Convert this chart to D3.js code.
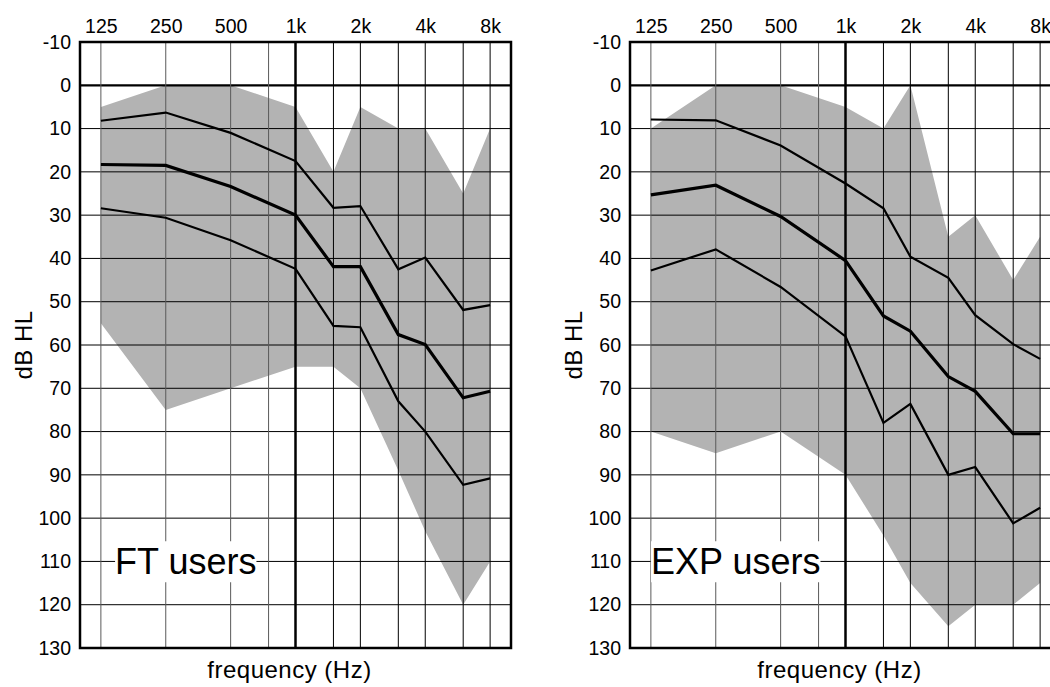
<!DOCTYPE html>
<html>
<head>
<meta charset="utf-8">
<script src="https://cdn.jsdelivr.net/npm/d3@7"></script>
<style>
  html, body { margin: 0; padding: 0; background: #fff; }
  svg { display: block; }
</style>
</head>
<body>
<div id="chart"></div>
<script>
// audiogram data (dB HL)
const freqs = [125, 250, 500, 1000, 1500, 2000, 3000, 4000, 6000, 8000];
const gridFreqs = [125, 250, 500, 750, 1000, 1500, 2000, 3000, 4000, 6000, 8000];
const topTicks = [125, 250, 500, 1000, 2000, 4000, 8000];
const topTickLabels = ["125", "250", "500", "1k", "2k", "4k", "8k"];
const dbTicks = [-10, 0, 10, 20, 30, 40, 50, 60, 70, 80, 90, 100, 110, 120, 130];

// FT users
const ftBandTop = [5, 0, 0, 5, 20, 5, 10, 10, 25, 10];
const ftBandBottom = [55, 75, 70, 65, 65, 70, 89, 103, 120, 110];
const ftUpper = [8.2, 6.3, 11, 17.5, 28.3, 27.9, 42.5, 39.8, 51.9, 50.8];
const ftMean = [18.3, 18.5, 23.4, 30, 41.9, 41.9, 57.6, 59.9, 72.2, 70.7];
const ftLower = [28.4, 30.6, 35.8, 42.4, 55.6, 55.9, 73, 80, 92.3, 90.8];

// EXP users
const expBandTop = [10, 0, 0, 5, 10, 0, 35, 30, 45, 35];
const expBandBottom = [80, 85, 80, 90, 104, 115, 125, 120, 120, 115];
const expUpper = [7.9, 8.1, 13.9, 22.7, 28.4, 39.6, 44.5, 53.1, 59.8, 63.2];
const expMean = [25.3, 23.1, 30.3, 40.5, 53.3, 56.8, 67.3, 70.7, 80.5, 80.5];
const expLower = [42.8, 37.9, 46.6, 58, 78, 73.6, 90, 88.2, 101.2, 97.6];

const panels = [
  { label: "FT users", left: 80, top: ftBandTop, bottom: ftBandBottom, upper: ftUpper, mean: ftMean, lower: ftLower },
  { label: "EXP users", left: 630, top: expBandTop, bottom: expBandBottom, upper: expUpper, mean: expMean, lower: expLower }
];

const W = 1050, H = 687;
const plotTop = 42;
const width = 431, height = 606;
const font = "'Liberation Sans', Arial, Helvetica, sans-serif";

const svg = d3.select("#chart").append("svg")
  .attr("width", W).attr("height", H)
  .style("font-family", font);

const x = d3.scaleLog().domain([100, 10000]).range([0, width]);
const y = d3.scaleLinear().domain([-10, 130]).range([0, height]);

panels.forEach(p => {
  const g = svg.append("g").attr("transform", `translate(${p.left},${plotTop})`);

  // shaded range
  const area = d3.area()
    .x((d, i) => x(freqs[i]))
    .y0((d, i) => y(p.top[i]))
    .y1((d, i) => y(p.bottom[i]));
  g.append("path").datum(freqs).attr("d", area).attr("fill", "#b3b3b3");

  // grid
  g.selectAll(".hgrid").data(dbTicks).join("line")
    .attr("x1", 0).attr("x2", width)
    .attr("y1", d => y(d)).attr("y2", d => y(d))
    .attr("stroke", "#000")
    .attr("stroke-width", d => d === 0 ? 2.2 : 1);
  g.selectAll(".vgrid").data(gridFreqs).join("line")
    .attr("x1", d => x(d)).attr("x2", d => x(d))
    .attr("y1", 0).attr("y2", height)
    .attr("stroke", d => d < 1000 ? "#5a5a5a" : "#000")
    .attr("stroke-width", d => d === 1000 ? 2.5 : 1);

  // curves
  const line = d3.line().x((d, i) => x(freqs[i])).y(d => y(d));
  [[p.upper, 2.2], [p.lower, 2.2], [p.mean, 3.2]].forEach(([vals, sw]) => {
    g.append("path").datum(vals).attr("d", line)
      .attr("fill", "none").attr("stroke", "#000")
      .attr("stroke-width", sw).attr("stroke-linejoin", "miter");
  });

  // frame
  g.append("rect").attr("width", width).attr("height", height)
    .attr("fill", "none").attr("stroke", "#000").attr("stroke-width", 2.5);

  // axes (labels only)
  const ax = g.append("g").call(
    d3.axisTop(x).tickValues(topTicks)
      .tickFormat((d, i) => topTickLabels[i])
      .tickSize(0).tickPadding(9));
  const ay = g.append("g").call(
    d3.axisLeft(y).tickValues(dbTicks)
      .tickFormat(d => String(d))
      .tickSize(0).tickPadding(9));
  [ax, ay].forEach(a => {
    a.select(".domain").remove();
    a.attr("font-family", font).attr("font-size", 19.5);
    a.selectAll("text").attr("fill", "#000");
  });

  g.append("text")
    .attr("transform", `translate(-48,${height / 2}) rotate(-90)`)
    .attr("text-anchor", "middle")
    .attr("font-size", 24)
    .attr("letter-spacing", 0.5)
    .text("dB HL");

  g.append("text")
    .attr("x", width / 2 - 6).attr("y", height + 30)
    .attr("text-anchor", "middle")
    .attr("font-size", 24)
    .attr("letter-spacing", 0.5)
    .text("frequency (Hz)");

  // group label with white box
  const lab = g.append("g");
  const t = lab.append("text")
    .attr("x", x(250) + 20).attr("y", y(112.5) + 2)
    .attr("text-anchor", "middle")
    .attr("font-size", 36)
    .text(p.label);
  const bb = t.node().getBBox();
  lab.insert("rect", "text")
    .attr("x", bb.x).attr("y", bb.y)
    .attr("width", bb.width).attr("height", bb.height)
    .attr("fill", "#fff");
});
</script>
</body>
</html>
